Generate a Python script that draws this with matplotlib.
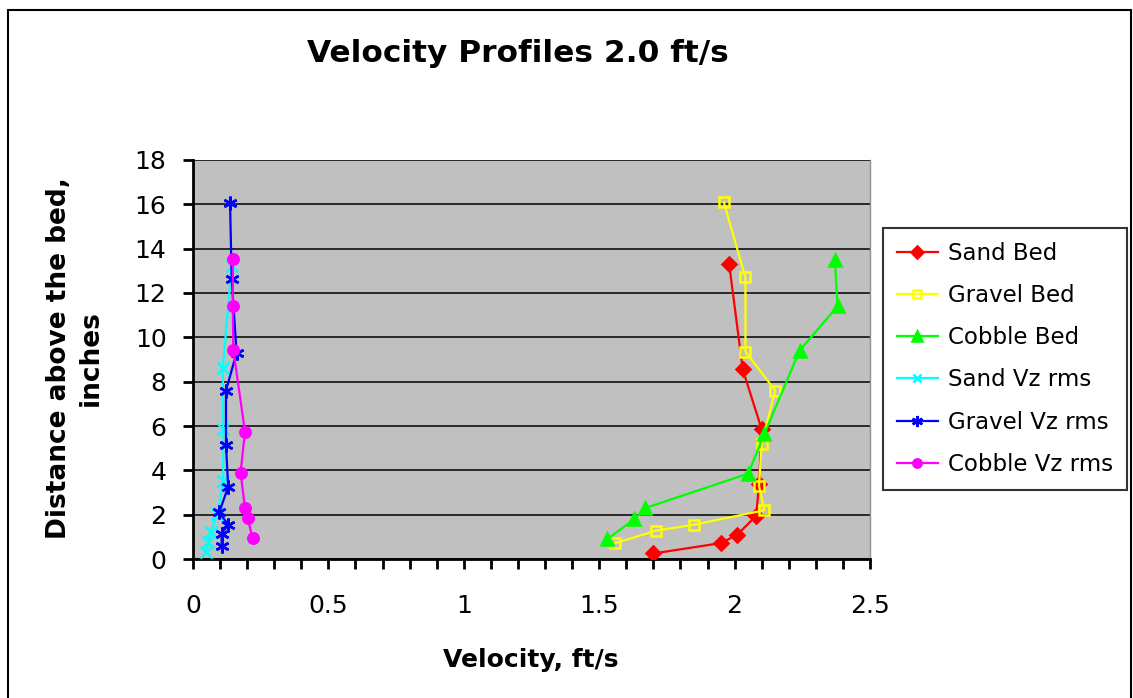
import matplotlib
matplotlib.use("Agg")
import matplotlib.pyplot as plt
from matplotlib.patches import Rectangle
from matplotlib.ticker import MultipleLocator

plt.rcParams['font.family'] = ['DejaVu Sans']

# Velocity profiles (x = velocity ft/s, y = distance above bed, inches)
sand_bed_x = [1.98, 2.03, 2.10, 2.09, 2.08, 2.01, 1.95, 1.70]
sand_bed_y = [13.3, 8.55, 5.85, 3.4, 1.95, 1.1, 0.72, 0.25]

gravel_bed_x = [1.96, 2.04, 2.04, 2.15, 2.10, 2.09, 2.11, 1.85, 1.71, 1.56]
gravel_bed_y = [16.1, 12.7, 9.35, 7.6, 5.2, 3.3, 2.2, 1.55, 1.28, 0.72]

cobble_bed_x = [2.37, 2.38, 2.24, 2.11, 2.05, 1.67, 1.63, 1.53]
cobble_bed_y = [13.5, 11.4, 9.4, 5.65, 3.85, 2.3, 1.8, 0.9]

sand_rms_x = [0.143, 0.110, 0.112, 0.112, 0.090, 0.065, 0.057, 0.048]
sand_rms_y = [13.2, 8.6, 5.85, 3.5, 2.05, 1.2, 0.75, 0.3]

gravel_rms_x = [0.137, 0.143, 0.161, 0.122, 0.122, 0.130, 0.097, 0.130, 0.106, 0.106]
gravel_rms_y = [16.05, 12.65, 9.3, 7.6, 5.15, 3.25, 2.1, 1.55, 1.15, 0.6]

cobble_rms_x = [0.147, 0.147, 0.149, 0.192, 0.176, 0.192, 0.202, 0.220]
cobble_rms_y = [13.55, 11.4, 9.45, 5.75, 3.9, 2.3, 1.85, 0.95]

x_ticks = [0, 0.5, 1, 1.5, 2, 2.5]
x_tick_labels = ['0', '0.5', '1', '1.5', '2', '2.5']
y_ticks = list(range(0, 19, 2))

fig = plt.figure(figsize=(11.33, 6.98), dpi=100)
ax = fig.add_axes([0.1703, 0.1991, 0.5976, 0.5717])
ax.set_facecolor('#C0C0C0')

series = [
    (sand_bed_x, sand_bed_y, 'Sand Bed', '#FF0000', 'D', True, 7.5),
    (gravel_bed_x, gravel_bed_y, 'Gravel Bed', '#FFFF00', 's', False, 7.5),
    (cobble_bed_x, cobble_bed_y, 'Cobble Bed', '#00FF00', '^', True, 8.5),
    (sand_rms_x, sand_rms_y, 'Sand Vz rms', '#00FFFF', 'x', True, 8),
    (gravel_rms_x, gravel_rms_y, 'Gravel Vz rms', '#0000FF', (6, 2, 0), True, 10),
    (cobble_rms_x, cobble_rms_y, 'Cobble Vz rms', '#FF00FF', 'o', True, 7.5),
]
for xs, ys, name, col, mk, filled, size in series:
    ax.plot(xs, ys, color=col, lw=1.6, marker=mk, ms=size, mew=1.8,
            mfc=(col if filled else 'none'), mec=col, label=name, zorder=3)

ax.set_xlim(0, 2.5)
ax.set_ylim(0, 18)
ax.set_xticks(x_ticks)
ax.set_xticklabels(x_tick_labels)
ax.set_yticks(y_ticks)
ax.xaxis.set_minor_locator(MultipleLocator(0.1))
ax.yaxis.grid(True, color='black', lw=1.1)
ax.set_axisbelow(True)

for s in ['left', 'bottom']:
    ax.spines[s].set_linewidth(2)
ax.spines['top'].set_visible(False)
ax.spines['right'].set_color('#909090')
ax.spines['right'].set_linewidth(1)

ax.tick_params(axis='x', which='major', direction='out', length=7, width=2,
               labelsize=18, pad=18)
ax.tick_params(axis='x', which='minor', direction='out', length=7, width=2)
ax.tick_params(axis='y', which='major', direction='out', length=7, width=2,
               labelsize=18, pad=12)

fig.text(518 / 1133, 1 - 53 / 698, 'Velocity Profiles 2.0 ft/s',
         ha='center', va='center', fontsize=22.5, fontweight='bold')
fig.text(531 / 1133, 1 - 660 / 698, 'Velocity, ft/s',
         ha='center', va='center', fontsize=18, fontweight='bold')
fig.text(75 / 1133, 1 - 358 / 698, 'Distance above the bed,\ninches',
         ha='center', va='center', fontsize=19, fontweight='bold',
         rotation=90, linespacing=1.3)

leg = fig.legend(loc='upper left', bbox_to_anchor=(883 / 1133, 1 - 228 / 698),
                 bbox_transform=fig.transFigure, fontsize=16.5, frameon=True,
                 fancybox=False, edgecolor='black', borderaxespad=0,
                 handlelength=1.8, handletextpad=0.45, labelspacing=0.84,
                 borderpad=0.6, markerscale=0.8)
leg.get_frame().set_linewidth(1.5)

fig.patches.append(Rectangle((8 / 1133, -0.01), 1123 / 1133, 1 - 10 / 698 + 0.01,
                             transform=fig.transFigure, fill=False,
                             edgecolor='black', lw=1.5))

fig.savefig('out.png', dpi=100)
